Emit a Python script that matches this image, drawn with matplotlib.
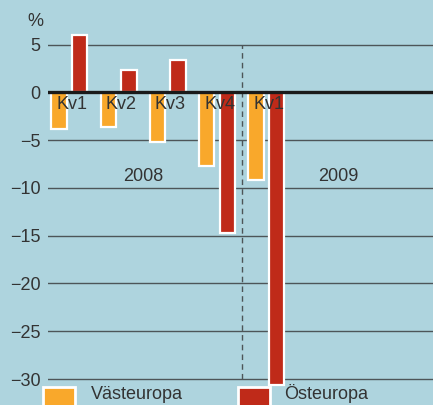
import matplotlib
matplotlib.use("Agg")
import matplotlib.pyplot as plt
from matplotlib.patches import Rectangle

quarters = ["Kv1", "Kv2", "Kv3", "Kv4", "Kv1"]
years = ["2008", "2009"]
vast = [-3.8, -3.6, -5.2, -7.7, -9.2]
ost = [6.0, 2.3, 3.4, -14.7, -30.6]
yticks = [5, 0, -5, -10, -15, -20, -25, -30]
legend_labels = ["Västeuropa", "Östeuropa"]

plt.rcParams["font.family"] = ["Liberation Sans", "DejaVu Sans"]

BG = "#AED4DE"
ORANGE = "#F9A82B"
RED = "#BF2A19"
TXT = "#333333"
FS = 13

W, H = 433, 405
fig = plt.figure(figsize=(W / 100, H / 100), dpi=100, facecolor=BG)
ax_left, ax_right, ax_top, ax_bot = 47.7, 433, 0, 388
ax = fig.add_axes([ax_left / W, 1 - ax_bot / H, (ax_right - ax_left) / W, (ax_bot - ax_top) / H])
ax.set_facecolor(BG)
ax.set_xlim(-0.443, 7.38)
ax.set_ylim(-30.94, 9.66)

for y in yticks:
    if y == 0:
        continue
    ax.axhline(y, color="#4d5558", lw=1.0, zorder=1)
ax.vlines(3.5, -30, 5, colors="#4d5558", linestyles=(0, (4, 3)), lw=1.0, zorder=1)

x = list(range(len(quarters)))
w = 0.31
ax.bar([i - 0.215 for i in x], vast, width=w, color=ORANGE, edgecolor="white", lw=1.6, zorder=2)
ax.bar([i + 0.205 for i in x], ost, width=w, color=RED, edgecolor="white", lw=1.6, zorder=2)
ax.axhline(0, color="#1a1a1a", lw=2.4, zorder=3)

for i, q in enumerate(quarters):
    ax.text(i + 0.05, -1.25, q, ha="center", va="center", fontsize=FS, color=TXT, zorder=4)
ax.text(1.5, -8.8, years[0], ha="center", va="center", fontsize=FS, color=TXT)
ax.text(5.45, -8.8, years[1], ha="center", va="center", fontsize=FS, color=TXT)

ax.set_yticks(yticks)
ax.set_yticklabels([str(v).replace("-", "\u2212") for v in yticks], fontsize=FS, color=TXT)
ax.tick_params(axis="y", length=0, pad=5)
ax.set_xticks([])
for s in ax.spines.values():
    s.set_visible(False)

fig.text(43 / W, 1 - 22 / H, "%", ha="right", va="center", fontsize=FS, color=TXT)

# legend
for (x0, col, tx, lab) in [(43.3, ORANGE, 90.7, legend_labels[0]), (238.3, RED, 284.3, legend_labels[1])]:
    fig.patches.append(Rectangle((x0 / W, 1 - 420 / H), 32 / W, 33 / H, transform=fig.transFigure,
                                 facecolor=col, edgecolor="white", lw=2.0))
    fig.text(tx / W, 1 - 399 / H, lab, ha="left", va="baseline", fontsize=FS, color=TXT)

fig.savefig("out.png", dpi=100, facecolor=BG)
